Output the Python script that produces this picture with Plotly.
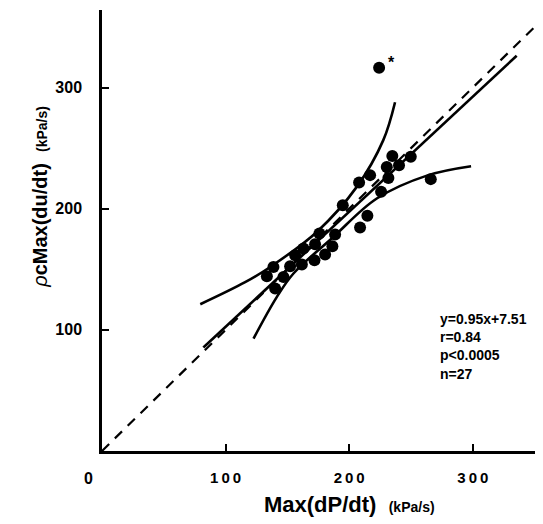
import plotly.graph_objects as go

# ── data ──────────────────────────────────────────────────────────────────
max_dpdt = [234.9, 249.8, 230.4, 240.3, 231.7, 216.9, 208.0, 225.8, 194.8,
            214.7, 208.8, 188.6, 175.9, 172.4, 186.4, 163.0, 156.3, 180.5,
            171.9, 161.7, 152.2, 138.7, 133.4, 146.8, 140.1, 266.0, 224.2]
rho_c_max_dudt = [243.4, 242.8, 234.5, 235.9, 225.4, 227.7, 221.6, 213.9, 202.9,
                  194.1, 184.5, 178.7, 179.5, 170.7, 169.0, 167.1, 161.6, 162.2,
                  157.5, 153.9, 152.5, 151.9, 144.3, 143.7, 134.1, 224.4, 316.3]

# regression y = 0.95x + 7.51, drawn over this span
reg_slope, reg_icept = 0.95, 7.51
reg_x = [82.0, 335.5]

# identity line
ident_x = [0, 356]

# confidence band curves
upper_x = [79.5, 115.8, 136.1, 173.8, 206.1, 227.6, 237.1]
upper_y = [121.1, 139.3, 151.9, 180.8, 218.0, 256.6, 287.9]
lower_x = [122.6, 141.5, 154.9, 187.2, 222.3, 264.0, 298.6]
lower_y = [92.8, 127.2, 146.5, 176.7, 208.4, 227.7, 235.1]

x_ticks = [100, 200, 300]
y_ticks = [100, 200, 300]
stats_lines = ["y=0.95x+7.51", "r=0.84", "p<0.0005", "n=27"]

INK = "black"
BOLD = "Liberation Sans, Arial, sans-serif"

fig = go.Figure()

fig.add_trace(go.Scatter(x=ident_x, y=ident_x, mode="lines",
                         line=dict(color=INK, width=2.2, dash="10px,8px")))
fig.add_trace(go.Scatter(x=reg_x, y=[reg_slope * v + reg_icept for v in reg_x],
                         mode="lines", line=dict(color=INK, width=2.6)))
fig.add_trace(go.Scatter(x=upper_x, y=upper_y, mode="lines",
                         line=dict(color=INK, width=2.6, shape="spline", smoothing=1.0)))
fig.add_trace(go.Scatter(x=lower_x, y=lower_y, mode="lines",
                         line=dict(color=INK, width=2.6, shape="spline", smoothing=1.0)))
fig.add_trace(go.Scatter(x=max_dpdt, y=rho_c_max_dudt, mode="markers",
                         marker=dict(color=INK, size=12, line=dict(width=0))))

# outlier asterisk
fig.add_annotation(x=max_dpdt[-1], y=rho_c_max_dudt[-1], text="<b>*</b>",
                   showarrow=False, xshift=12, yshift=5,
                   font=dict(family=BOLD, size=16, color=INK))

# shared origin label
fig.add_annotation(x=0, y=0, text="<b>0</b>", showarrow=False,
                   xshift=-14, yshift=-27, font=dict(family=BOLD, size=16, color=INK))

# axis titles
fig.add_annotation(xref="paper", yref="paper", x=0.562, y=-0.122,
                   xanchor="center", yanchor="middle",
                   text="<b>Max(dP/dt)</b>  <span style='font-size:14px'><b>(kPa/s)</b></span>",
                   showarrow=False, font=dict(family=BOLD, size=22, color=INK))
fig.add_annotation(xref="paper", yref="paper", x=-0.141, y=0.576, textangle=-90,
                   xanchor="center", yanchor="middle",
                   text="<i>ρ</i><b>cMax(du/dt)</b>  <span style='font-size:14px'><b>(kPa/s)</b></span>",
                   showarrow=False, font=dict(family=BOLD, size=20, color=INK))

# stats block
fig.add_annotation(xref="paper", yref="paper", x=0.762, y=0.322,
                   xanchor="left", yanchor="top", align="left",
                   text="<br>".join(f"<b>{s}</b>" for s in stats_lines),
                   showarrow=False, font=dict(family=BOLD, size=14, color=INK))

axis_common = dict(showgrid=False, zeroline=False, showline=True, linecolor=INK,
                   linewidth=2.5, ticks="inside", ticklen=7, tickwidth=2,
                   tickcolor=INK, mirror=False, automargin=False)

fig.update_xaxes(range=[0, 356.8], tickvals=x_ticks,
                 ticktext=["\u2009".join(str(t)) for t in x_ticks],
                 tickfont=dict(family=BOLD, size=15, color=INK, weight="bold"),
                 ticklabelstandoff=11, **axis_common)
fig.update_yaxes(range=[0, 364], tickvals=y_ticks,
                 ticktext=[str(t) for t in y_ticks],
                 tickfont=dict(family=BOLD, size=16, color=INK, weight="bold"),
                 ticklabelstandoff=14, **axis_common)

# page body adds an 8px offset, so the figure is sized to fit inside it
fig.update_layout(width=535, height=516, showlegend=False,
                  margin=dict(l=94, r=0, t=2, b=73),
                  plot_bgcolor="white", paper_bgcolor="white")

fig.write_html("out.html", config={"responsive": False})
